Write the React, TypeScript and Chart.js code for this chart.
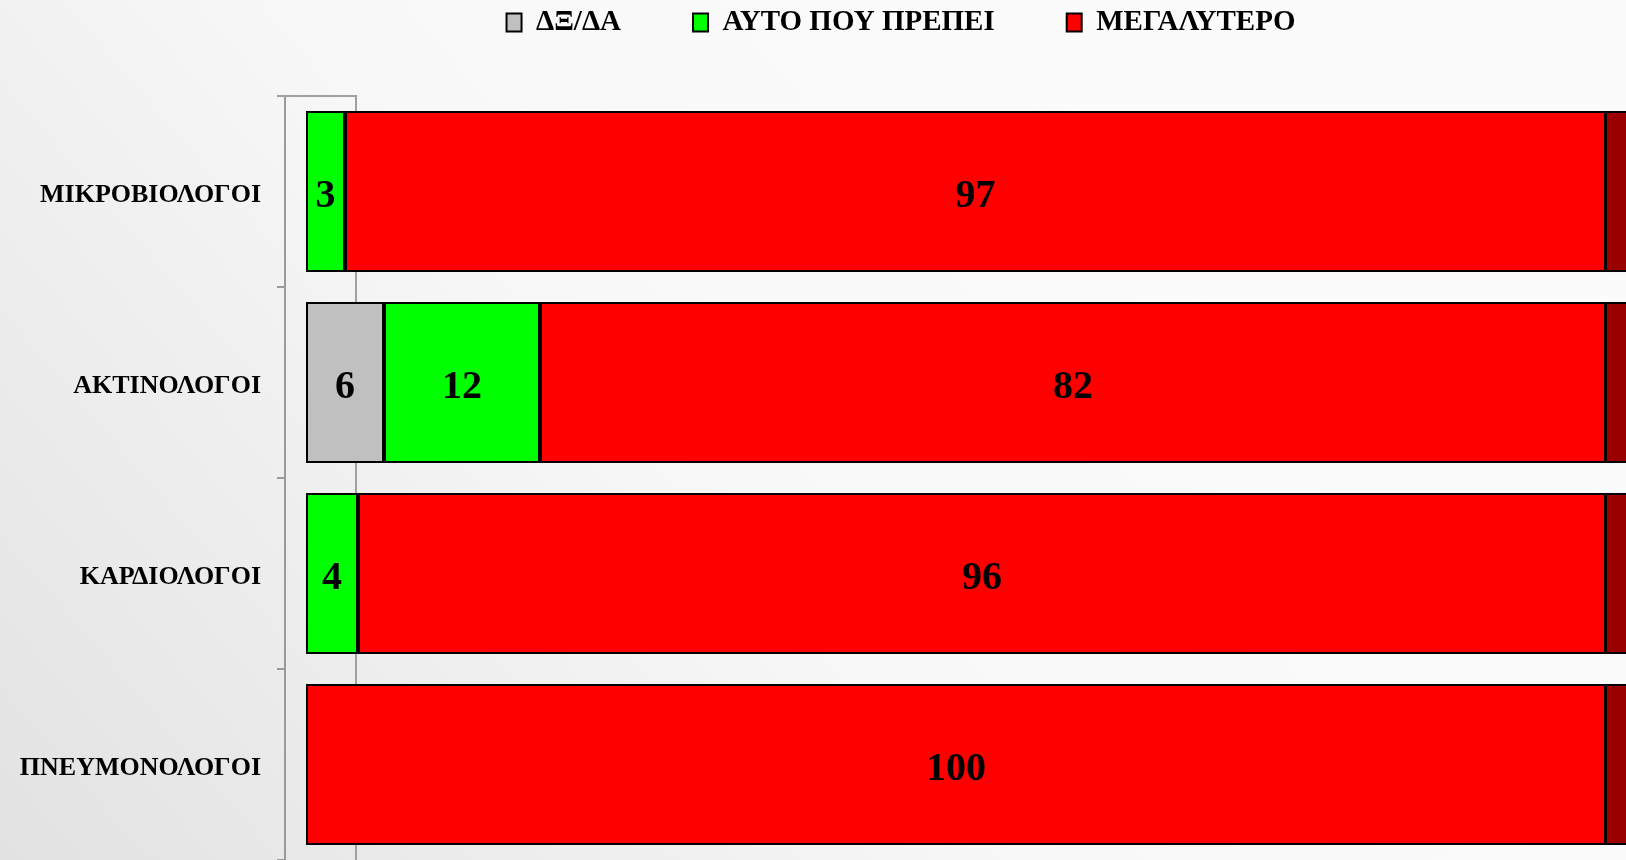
import React, { useEffect, useRef } from "react";
import { Chart, registerables } from "chart.js";

Chart.register(...registerables);

const categories = ["ΜΙΚΡΟΒΙΟΛΟΓΟΙ", "ΑΚΤΙΝΟΛΟΓΟΙ", "ΚΑΡΔΙΟΛΟΓΟΙ", "ΠΝΕΥΜΟΝΟΛΟΓΟΙ"];
const seriesNames = ["ΔΞ/ΔΑ", "ΑΥΤΟ ΠΟΥ ΠΡΕΠΕΙ", "ΜΕΓΑΛΥΤΕΡΟ"];
const dontKnowValues = [0, 6, 0, 0];
const asItShouldValues = [3, 12, 4, 0];
const biggerValues = [97, 82, 96, 100];
const seriesColors = ["#C0C0C0", "#00FF00", "#FF0000"];

const FONT = "'Liberation Serif', 'Times New Roman', serif";

const backgroundPlugin = {
  id: "bgGradient",
  beforeDraw(chart: any) {
    const { ctx, width, height } = chart;
    ctx.save();
    const g = ctx.createLinearGradient(0, height, 1000, 0);
    g.addColorStop(0, "#e2e2e2");
    g.addColorStop(0.6, "#f8f8f8");
    g.addColorStop(1, "#fbfbfb");
    ctx.fillStyle = g;
    ctx.fillRect(0, 0, width, height);
    ctx.restore();
  },
};

const legendSpacingPlugin = {
  id: "legendSpacing",
  beforeLayout(chart: any) {
    const legend = chart.legend;
    if (legend && !legend.__patched) {
      const fit = legend.fit;
      legend.fit = function () {
        fit.call(this);
        this.height = 160;
      };
      legend.__patched = true;
    }
  },
};

const wallPlugin = {
  id: "wall",
  beforeDatasetsDraw(chart: any) {
    const { ctx, chartArea } = chart;
    ctx.save();
    ctx.strokeStyle = "#a0a0a0";
    ctx.lineWidth = 2;
    ctx.beginPath();
    ctx.moveTo(chartArea.left - 8, chartArea.top);
    ctx.lineTo(chartArea.left + 71, chartArea.top);
    ctx.lineTo(chartArea.left + 71, chartArea.bottom);
    ctx.stroke();
    ctx.restore();
  },
};

const sideAndLabelsPlugin = {
  id: "sideAndLabels",
  afterDatasetsDraw(chart: any) {
    const { ctx } = chart;
    ctx.save();
    const lastIdx = chart.data.datasets.length - 1;
    const lastMeta = chart.getDatasetMeta(lastIdx);
    lastMeta.data.forEach((el: any) => {
      const h = el.height;
      const x = el.x;
      const top = el.y - h / 2;
      ctx.fillStyle = "#9a0000";
      ctx.fillRect(x, top, 40, h);
      ctx.strokeStyle = "#000";
      ctx.lineWidth = 2;
      ctx.strokeRect(x, top + 1, 40, h - 2);
    });
    ctx.font = `bold 40px ${FONT}`;
    ctx.textAlign = "center";
    ctx.textBaseline = "middle";
    ctx.fillStyle = "#000";
    chart.data.datasets.forEach((ds: any, i: number) => {
      const meta = chart.getDatasetMeta(i);
      meta.data.forEach((el: any, j: number) => {
        const v = ds.data[j];
        if (!v) return;
        const p = el.getCenterPoint();
        ctx.fillText(String(v), p.x, p.y + 5);
      });
    });
    ctx.restore();
  },
};

export default function App() {
  const ref = useRef<HTMLCanvasElement | null>(null);
  useEffect(() => {
    if (!ref.current) return;
    const values = [dontKnowValues, asItShouldValues, biggerValues];
    const chart = new Chart(ref.current, {
      type: "bar",
      data: {
        labels: categories,
        datasets: seriesNames.map((name, i) => ({
          label: name,
          data: values[i],
          backgroundColor: seriesColors[i],
          borderColor: "#000000",
          borderWidth: 2,
          borderSkipped: false,
          categoryPercentage: 1,
          barPercentage: 0.843,
        })),
      },
      options: {
        indexAxis: "y",
        animation: false,
        responsive: false,
        devicePixelRatio: 1,
        layout: { padding: { top: -64, right: 0, left: 0, bottom: 0 } },
        plugins: {
          tooltip: { enabled: false },
          legend: {
            display: true,
            position: "top",
            labels: {
              boxWidth: 15,
              boxHeight: 18,
              padding: 72,
              color: "#000",
              font: { size: 29, weight: "bold", family: FONT },
            },
          },
        },
        scales: {
          x: {
            stacked: true,
            display: false,
            min: -1.6154,
            max: 100,
          },
          y: {
            stacked: true,
            afterFit(scale: any) {
              scale.width = 285;
              scale.paddingTop = 0;
              scale.paddingBottom = 0;
            },
            grid: {
              offset: true,
              drawOnChartArea: false,
              color: "#9a9a9a",
              lineWidth: 2,
              tickLength: 8,
            },
            border: { display: true, color: "#9a9a9a", width: 2 },
            ticks: {
              color: "#000",
              padding: 16,
              labelOffset: 4,
              font: { size: 26, weight: "bold", family: FONT },
            },
          },
          yRight: {
            type: "category",
            position: "right",
            display: true,
            grid: { display: false },
            border: { display: false },
            ticks: { display: false },
            afterFit(scale: any) {
              scale.width = 196;
              scale.paddingTop = 0;
              scale.paddingBottom = 0;
            },
          },
        },
      } as any,
      plugins: [backgroundPlugin, legendSpacingPlugin, wallPlugin, sideAndLabelsPlugin],
    });
    return () => chart.destroy();
  }, []);

  return (
    <div
      style={{
        position: "fixed",
        left: 0,
        top: 0,
        width: 1626,
        height: 860,
        overflow: "hidden",
        background: "#f4f4f4",
      }}
    >
      <canvas
        ref={ref}
        width={1802}
        height={860}
        style={{ position: "absolute", left: 0, top: 0 }}
      />
    </div>
  );
}
